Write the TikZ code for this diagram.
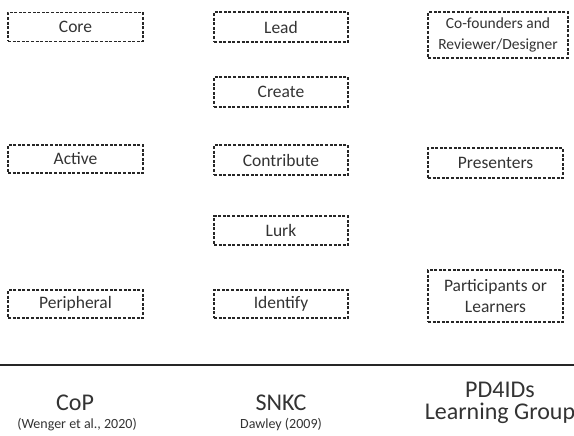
\documentclass[tikz,border=0pt]{standalone}
\usepackage{fontspec}
\setmainfont{Carlito}
\definecolor{txt}{HTML}{333333}
\begin{document}
\begin{tikzpicture}[x=1pt,y=-1pt,
  box/.style={draw=black!85, line width=1.2pt, dash pattern=on 3pt off 1.6pt,
    minimum width=135pt, minimum height=29pt, inner sep=0pt, align=center,
    text=txt, font=\fontsize{17.5}{21.5}\selectfont},
  big/.style={anchor=base, text=txt, inner sep=0pt, font=\fontsize{24}{22}\selectfont},
  small/.style={anchor=base, text=txt, inner sep=0pt, font=\fontsize{14}{16}\selectfont}]
\useasboundingbox (0,0) rectangle (574,436);
% CoP column
\node[box] (core) at (75.5,27) {Core};
\node[box, minimum height=28pt] (active) at (75.5,159) {Active};
\node[box, minimum height=28pt] (periph) at (75.5,304) {Peripheral};
% SNKC column
\node[box, minimum width=134pt, minimum height=30pt] (lead) at (281,27) {Lead};
\node[box, minimum width=134pt, minimum height=30pt] (create) at (281,92) {Create};
\node[box, minimum width=134pt, minimum height=30pt] (contrib) at (281,160) {Contribute};
\node[box, minimum width=134pt] (lurk) at (281,230.5) {Lurk};
\node[box, minimum width=134pt, minimum height=28pt] (ident) at (281,304) {Identify};
% PD4IDs column
\node[box, minimum width=140pt, minimum height=46pt,
      font=\fontsize{15.5}{20.5}\selectfont] (cofound) at (498,35) {Co-founders and\\Reviewer/Designer};
\node[box, minimum height=30pt] (present) at (495.5,163) {Presenters};
\node[box, minimum height=52pt] (partic) at (495.5,296) {Participants or\\Learners};
% separator
\coordinate (l1) at (0,365);
\coordinate (l2) at (574,365);
\draw[line width=1.3pt, black!85] (l1) -- (l2);
% labels
\node[big] (cop) at (75,410) {CoP};
\node[small] (copref) at (77,428) {(Wenger et al., 2020)};
\node[big] (snkc) at (281,410) {SNKC};
\node[small] (snkcref) at (281,428) {Dawley (2009)};
\node[big] (pd) at (500,397) {PD4IDs};
\node[big] (lg) at (500,419) {Learning Group};
\end{tikzpicture}
\end{document}
